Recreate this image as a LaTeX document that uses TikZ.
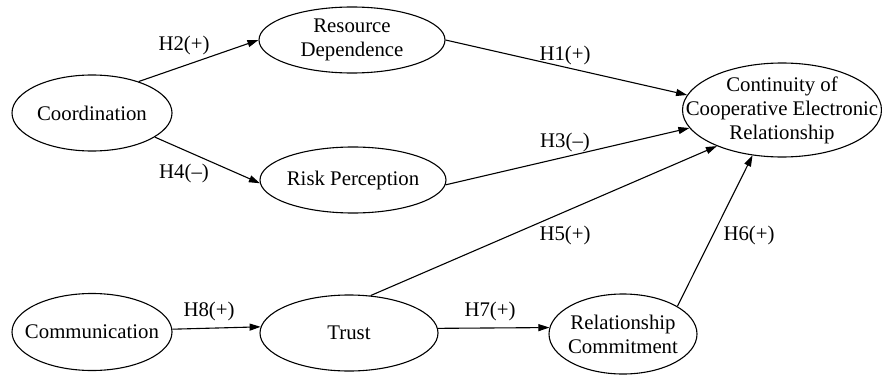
\documentclass[tikz,border=0pt]{standalone}
\usepackage{fontspec}
\setmainfont{Liberation Serif}
\usetikzlibrary{shapes.geometric,arrows.meta}
\begin{document}
\begin{tikzpicture}[x=1pt,y=-1pt,
  every node/.style={font=\fontsize{20.8}{24}\selectfont},
  oval/.style={ellipse,draw,line width=1.1pt,align=center,inner xsep=-80pt,inner ysep=-40pt},
  hyp/.style={inner sep=0pt},
  link/.style={draw,line width=1.1pt,-{Triangle[length=11pt,width=7pt]}}]
\useasboundingbox (0,0) rectangle (882,377);
\node[oval,minimum width=160pt,minimum height=76pt] (coord) at (92,113) {Coordination};
\node[oval,minimum width=186pt,minimum height=66pt] (rd) at (352,40) {Resource\\Dependence};
\node[oval,minimum width=186pt,minimum height=66pt] (rp) at (353,180) {Risk Perception};
\node[oval,minimum width=199pt,minimum height=94pt] (cont) at (782,110) {Continuity of\\Cooperative Electronic\\Relationship};
\node[oval,minimum width=160pt,minimum height=77pt] (comm) at (92,332) {Communication};
\node[oval,minimum width=178pt,minimum height=76pt] (trust) at (349,333) {Trust};
\node[oval,minimum width=148pt,minimum height=80pt] (rc) at (623,334) {Relationship\\Commitment};

\draw[link] (coord.34) -- (rd.west);
\draw[link] (coord.-21) -- (rp.182);
\draw[link] (rd.east) -- (cont.171);
\draw[link] (rp.-3) -- (cont.191.6);
\draw[link] (trust.60) -- (cont.209);
\draw[link] (rc.27) -- (cont.237);
\draw[link] (comm.2.9) -- (trust.176.8);
\draw[link] (trust.3.2) -- (rc.175.4);

\node[hyp] (h2) at (184,45) {H2(+)};
\node[hyp] (h4) at (184,173) {H4(--)};
\node[hyp] (h1) at (565,55) {H1(+)};
\node[hyp] (h3) at (565,142) {H3(--)};
\node[hyp] (h5) at (565,235) {H5(+)};
\node[hyp] (h6) at (749,235) {H6(+)};
\node[hyp] (h8) at (209,311) {H8(+)};
\node[hyp] (h7) at (490,311) {H7(+)};
\end{tikzpicture}
\end{document}
